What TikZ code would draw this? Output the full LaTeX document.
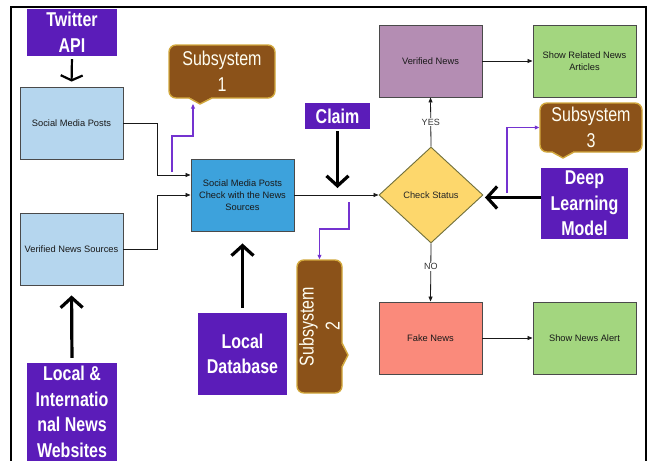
\documentclass[tikz,border=0pt]{standalone}
\usepackage{fontspec}
\setmainfont{Liberation Sans}
\newfontfamily\cond[FakeStretch=0.8]{Liberation Sans}
\usetikzlibrary{arrows.meta,shapes.geometric}
\definecolor{pur}{HTML}{5B1CB9}
\definecolor{brn}{HTML}{8B5219}
\definecolor{gold}{HTML}{D2A83C}
\definecolor{lblue}{HTML}{B5D6EE}
\definecolor{mblue}{HTML}{3DA2DC}
\definecolor{yel}{HTML}{FDD76C}
\definecolor{mauve}{HTML}{B48DB3}
\definecolor{grn}{HTML}{A3D67F}
\definecolor{salm}{HTML}{FA8A7B}
\definecolor{pline}{HTML}{7433D0}
\definecolor{bord}{HTML}{4A4A4A}
\begin{document}
\begin{tikzpicture}[x=1pt,y=-1pt,
  box/.style={draw=bord, line width=0.9pt, minimum width=103pt, minimum height=72pt, inner sep=0pt,
    align=center, text=black!90, font=\fontsize{9.3}{11.7}\selectfont},
  lbox/.style={box, fill=lblue},
  purbox/.style={fill=pur, inner sep=0pt, align=center, text=white,
    font=\cond\bfseries\fontsize{20}{25.5}\selectfont},
  callbox/.style={fill=brn, draw=gold, line width=1.4pt, rounded corners=7pt, inner sep=0pt,
    align=center, text=white!95!yellow, font=\cond\fontsize{20}{26}\selectfont},
  conn/.style={line width=0.8pt, draw=black!90, -{Triangle[length=5pt,width=4pt]}},
  pconn/.style={line width=1.3pt, draw=pline, -{Triangle[length=4.5pt,width=3.8pt]}},
  bigarrow/.style={line width=3.2pt, -{Straight Barb[length=10pt,width=22pt]}},
  twarrow/.style={line width=2.2pt, -{Straight Barb[length=5pt,width=22pt]}},
  lbl/.style={fill=white, inner sep=1pt, text=black!80, font=\fontsize{9}{10}\selectfont}
]
\useasboundingbox (0,0) rectangle (649,461);
\fill[white] (0,0) rectangle (649,461);
\draw[line width=1.6pt] (11,462) -- (11,7) -- (646,7) -- (646,462);

% process boxes
\node[lbox] (smp) at (71.5,123) {Social Media Posts};
\node[lbox] (vns) at (71.5,249) {Verified News Sources};
\node[box, fill=mblue] (chk) at (242.5,195) {Social Media Posts\\Check with the News\\Sources};
\node[box, fill=mauve] (vn) at (430.5,61) {Verified News};
\node[box, fill=grn] (srna) at (584.5,61) {Show Related News\\Articles};
\node[box, fill=salm] (fn) at (430.5,338) {Fake News};
\node[box, fill=grn] (sna) at (584.5,338) {Show News Alert};
\node[diamond, draw=bord!80!yellow, line width=0.9pt, fill=yel, minimum width=104pt, minimum height=96pt,
  inner sep=0pt, text=black!85, font=\fontsize{9.3}{11}\selectfont] (dia) at (431,195) {Check Status};

% purple source boxes
\node[purbox, minimum width=90pt, minimum height=47pt] (tw) at (72,32.5) {Twitter\\API};
\node[purbox, minimum width=65pt, minimum height=26pt] (claim) at (337.5,116) {Claim};
\node[purbox, minimum width=89pt, minimum height=82pt] (ldb) at (242.5,354) {Local\\Database};
\node[purbox, minimum width=90pt, minimum height=98pt] (lint) at (72,412) {Local \&\\Internatio\\nal News\\Websites};
\node[purbox, minimum width=87pt, minimum height=71pt] (dlm) at (584.5,203.5) {Deep\\Learning\\Model};

% callouts
\node[callbox, minimum width=106pt, minimum height=53pt] (sub1) at (222,71.5) {Subsystem\\1};
\fill[brn] (189,97) -- (200,104) -- (212,97) -- cycle;
\draw[gold, line width=1.4pt, line join=round] (189,98) -- (200,104) -- (212,98);
\node[callbox, minimum width=102pt, minimum height=49pt] (sub3) at (591,127.5) {Subsystem\\3};
\fill[brn] (552,151) -- (563,158) -- (574,151) -- cycle;
\draw[gold, line width=1.4pt, line join=round] (552,152) -- (563,158) -- (574,152);
\node[callbox, rotate=90, minimum width=133pt, minimum height=45pt] (sub2) at (319.5,326.5) {Subsystem\\2};
\fill[brn] (341,343) -- (348,355) -- (341,367) -- cycle;
\draw[gold, line width=1.4pt, line join=round] (342,343) -- (348,355) -- (342,367);

% thin connectors
\draw[conn] (smp.east) -- ++(34,0) |- ([yshift=20pt]chk.west);
\draw[conn] (vns.east) -- ++(34,0) |- (chk.west);
\draw[conn] (chk.east) -- (dia.west);
\draw[conn] (dia.north) -- node[lbl, pos=0.5] (yes) {YES} (vn.south);
\draw[conn] (dia.south) -- node[lbl, pos=0.4] (no) {NO} (fn.north);
\draw[conn] (vn.east) -- (srna.west);
\draw[conn] (fn.east) -- (sna.west);

% thick arrows
\draw[twarrow, shorten <=3pt, shorten >=5pt] (tw.south) -- (smp.north);
\draw[bigarrow, shorten <=5pt, shorten >=10pt] (lint.north) -- (vns.south);
\draw[bigarrow, shorten <=5pt, shorten >=12pt] (ldb.north) -- (chk.south);
\coordinate (claimtip) at (337.5,188);
\draw[bigarrow, shorten <=2pt] (claim.south) -- (claimtip);
\coordinate (dlmtip) at ([yshift=-2.5pt,xshift=1.5pt]dia.east);
\draw[bigarrow] (dlm.west |- dlmtip) -- (dlmtip);

% purple subsystem connectors
\coordinate (p1a) at (172,172);
\coordinate (p1m) at (172,136);
\coordinate (p1end) at (193,104);
\draw[pconn] (p1a) -- (p1m) -| (p1end);
\coordinate (p2a) at (349,202);
\coordinate (p2m) at (349,229);
\draw[pconn] (p2a) -- (p2m) -| (sub2.east);
\coordinate (p3a) at (507,193);
\draw[pconn] (p3a) |- (sub3.west);
\end{tikzpicture}
\end{document}
